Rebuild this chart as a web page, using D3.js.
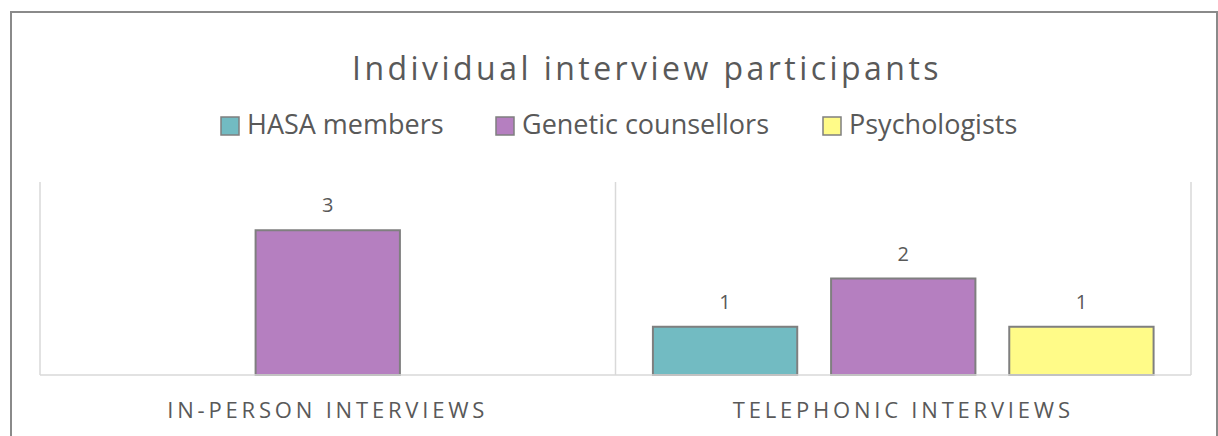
<!DOCTYPE html>
<html>
<head>
<meta charset="utf-8">
<script src="https://cdn.jsdelivr.net/npm/d3@7"></script>
<style>
  body { margin: 0; background: #fff; }
  svg text { font-family: "Open Sans", Lato, sans-serif; fill: #595959; }
</style>
</head>
<body>
<div id="chart"></div>
<script>
"use strict"
// Chart data
var categories = ["IN-PERSON INTERVIEWS", "TELEPHONIC INTERVIEWS"];
var seriesNames = ["HASA members", "Genetic counsellors", "Psychologists"];
var seriesColors = ["#72bbc2", "#b57fc0", "#fffb88"];
var hasaValues = [0, 1];
var counsellorValues = [3, 2];
var psychologistValues = [0, 1];
var yMax = 4;

var width = 1218;
var height = 436;
var plot = { left: 40, right: 1191, top: 182, bottom: 375 };

var svg = d3.select("#chart").append("svg")
    .attr("width", width)
    .attr("height", height);

// chart frame
svg.append("rect")
    .attr("x", 11).attr("y", 12)
    .attr("width", 1206).attr("height", 440)
    .attr("fill", "#fff")
    .attr("stroke", "#8a8a8a")
    .attr("stroke-width", 2);

var seriesValues = [hasaValues, counsellorValues, psychologistValues];
var rows = categories.map(function (c, i) {
    return {
        category: c,
        values: seriesNames.map(function (s, j) { return { name: s, value: seriesValues[j][i] }; })
    };
});

var x0 = d3.scaleBand().domain(categories).range([plot.left, plot.right]).padding(0);
var x1 = d3.scaleBand().domain(seriesNames).range([0, x0.bandwidth()])
    .paddingInner(0.19).paddingOuter(0.21);
var yScale = d3.scaleLinear().domain([0, yMax]).range([plot.bottom, plot.top]);
var color = d3.scaleOrdinal().domain(seriesNames).range(seriesColors);

// stretch a text to a given width with letter spacing (Excel-style spaced caps)
function fitSpacing(sel, target) {
    sel.each(function () {
        var node = this;
        var n = node.textContent.length;
        var w = node.getComputedTextLength();
        d3.select(node).style("letter-spacing", ((target - w) / n) + "px");
    });
}

// vertical category separators
var grid = svg.append("g").attr("class", "grid");
var edges = categories.map(function (c) { return x0(c); }).concat([plot.right]);
grid.selectAll("line.sep").data(edges).enter().append("line")
    .attr("class", "sep")
    .attr("x1", function (d) { return d; }).attr("x2", function (d) { return d; })
    .attr("y1", plot.top).attr("y2", plot.bottom)
    .attr("stroke", "#d9d9d9").attr("stroke-width", 1.5);

// title
svg.append("text")
    .attr("x", 647).attr("y", 80)
    .attr("text-anchor", "middle")
    .style("font-size", "32px")
    .text("Individual interview participants")
    .call(fitSpacing, 590);

// legend
var legendX = [221, 496, 823];
var legend = svg.append("g").attr("class", "legend")
    .selectAll("g").data(seriesNames).enter().append("g")
    .attr("transform", function (d, i) { return "translate(" + legendX[i] + ",117)"; });
legend.append("rect")
    .attr("width", 18).attr("height", 18)
    .attr("fill", function (d) { return color(d); })
    .attr("stroke", "#7f7f7f").attr("stroke-width", 1.5);
legend.append("text")
    .attr("x", 26).attr("y", 17)
    .style("font-size", "27px")
    .text(function (d) { return d; });

// bars
var groups = svg.append("g").selectAll("g.group").data(rows).enter().append("g")
    .attr("class", "group")
    .attr("transform", function (d) { return "translate(" + x0(d.category) + ",0)"; });

var bars = groups.selectAll("g.bar").data(function (d) {
        return d.values.filter(function (v) { return v.value > 0; });
    }).enter().append("g").attr("class", "bar");

bars.append("rect")
    .attr("x", function (d) { return x1(d.name); })
    .attr("y", function (d) { return yScale(d.value); })
    .attr("width", x1.bandwidth())
    .attr("height", function (d) { return yScale(0) - yScale(d.value); })
    .attr("fill", function (d) { return color(d.name); })
    .attr("stroke", "#7f7f7f")
    .attr("stroke-width", 2);

bars.append("text")
    .attr("x", function (d) { return x1(d.name) + x1.bandwidth() / 2; })
    .attr("y", function (d) { return yScale(d.value) - 18; })
    .attr("text-anchor", "middle")
    .style("font-size", "20px")
    .text(function (d) { return d.value; });

// baseline
svg.append("line")
    .attr("x1", plot.left).attr("x2", plot.right)
    .attr("y1", plot.bottom).attr("y2", plot.bottom)
    .attr("stroke", "#d9d9d9").attr("stroke-width", 1.5);

// category axis labels
var xAxis = d3.axisBottom(x0).tickSize(0).tickPadding(0);
var axisG = svg.append("g")
    .attr("transform", "translate(0," + plot.bottom + ")")
    .call(xAxis);
axisG.select(".domain").remove();
axisG.selectAll("text")
    .attr("dy", null)
    .attr("y", 43)
    .style("font-family", "'Open Sans', sans-serif")
    .style("font-size", "22px")
    .style("fill", "#595959")
    .each(function (d) {
        var target = d === categories[0] ? 321 : 341;
        d3.select(this).call(fitSpacing, target);
    });
</script>
</body>
</html>
